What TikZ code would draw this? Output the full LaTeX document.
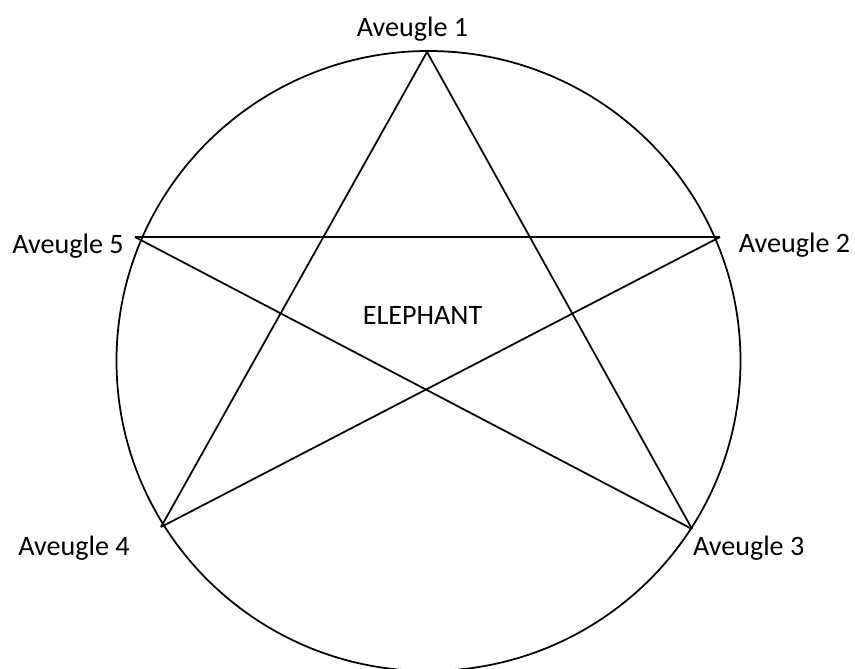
\documentclass[tikz,border=0pt]{standalone}
\usepackage{fontspec}
\setmainfont{Carlito}
\usetikzlibrary{positioning}

\begin{document}
\begin{tikzpicture}[
  x=0.02cm, y=-0.02cm,
  every node/.style={font=\fontsize{16}{19}\selectfont},
  blindlabel/.style={anchor=base, inner sep=0pt},
  starline/.style={line width=1pt}
]

% --- Keret ---
\useasboundingbox (0,0) rectangle (855,669);
\clip (0,0) rectangle (855,669);

% --- Kör ---
\draw[starline] (428.5,361) ellipse [x radius=312, y radius=310];

% --- Csúcsok ---
\coordinate (a1) at (427,52);
\coordinate (a2) at (720,237);
\coordinate (a3) at (692,529);
\coordinate (a4) at (161,527);
\coordinate (a5) at (135,237);

% --- Feliratok ---
\node[blindlabel] (l1) at (412.5,36.7) {Aveugle 1};
\node[blindlabel] (l2) at (794.5,252.7) {Aveugle 2};
\node[blindlabel] (l3) at (748.7,555) {Aveugle 3};
\node[blindlabel] (l4) at (74,555) {Aveugle 4};
\node[blindlabel] (l5) at (68,253.3) {Aveugle 5};
\node[blindlabel] (mid) at (422.5,324.3) {ELEPHANT};

% --- Csillag ---
\draw[starline] (a1) -- (a3);
\draw[starline] (a3) -- (a5);
\draw[starline] (a5) -- (a2);
\draw[starline] (a2) -- (a4);
\draw[starline] (a4) -- (a1);

\end{tikzpicture}
\end{document}
